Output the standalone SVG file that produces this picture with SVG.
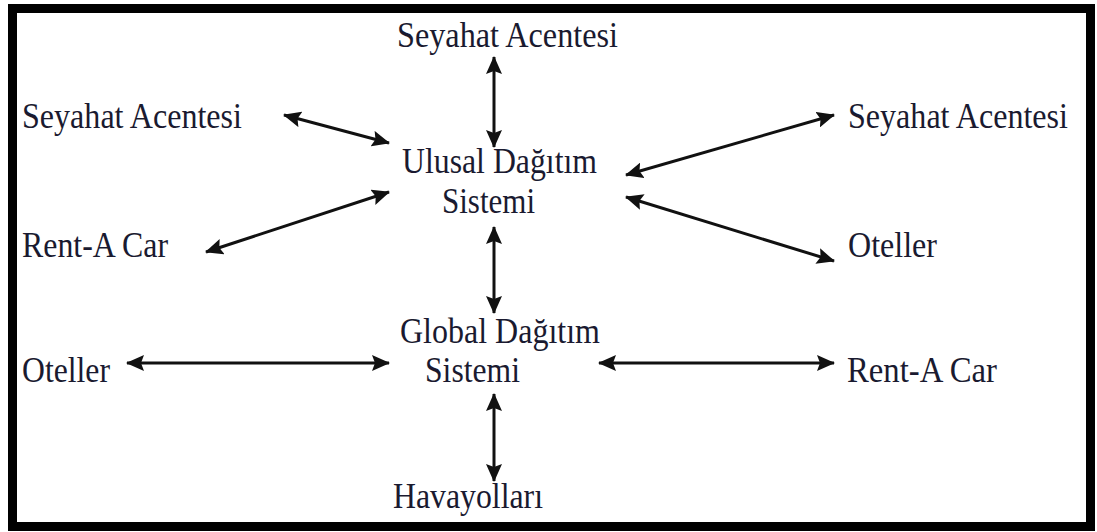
<svg xmlns="http://www.w3.org/2000/svg" width="1097" height="532" viewBox="0 0 1097 532">
  <style>
    .lbl { font-family: "Liberation Serif", "Times New Roman", serif; font-size: 36px; fill: #1a1a30; }
    .conn { stroke: #111; stroke-width: 3; fill: none; marker-start: url(#head); marker-end: url(#head); }
  </style>
  <defs>
    <marker id="head" viewBox="0 0 18 16" refX="17" refY="8" markerWidth="18" markerHeight="16" markerUnits="userSpaceOnUse" orient="auto-start-reverse">
      <path d="M0,0 L18,8 L0,16 L3,8 Z" fill="#111"/>
    </marker>
  </defs>

  <rect x="0" y="0" width="1097" height="532" fill="#fff"/>
  <!-- outer frame -->
  <rect x="12.5" y="8.5" width="1078" height="518" fill="none" stroke="#000" stroke-width="9"/>

  <g id="connectors">
    <line class="conn" x1="494" y1="57" x2="494" y2="147"/>
    <line class="conn" x1="284" y1="115" x2="389" y2="143"/>
    <line class="conn" x1="626" y1="175" x2="834" y2="115"/>
    <line class="conn" x1="626" y1="197" x2="834" y2="261"/>
    <line class="conn" x1="206" y1="252" x2="389" y2="192"/>
    <line class="conn" x1="494" y1="227" x2="494" y2="313"/>
    <line class="conn" x1="127" y1="363" x2="389" y2="363"/>
    <line class="conn" x1="599" y1="363" x2="834" y2="363"/>
    <line class="conn" x1="494" y1="394" x2="494" y2="481"/>
  </g>

  <g id="seyahat-top"><text class="lbl" x="397" y="47" textLength="221" lengthAdjust="spacingAndGlyphs">Seyahat Acentesi</text></g>
  <g id="seyahat-left"><text class="lbl" x="22" y="128" textLength="220" lengthAdjust="spacingAndGlyphs">Seyahat Acentesi</text></g>
  <g id="seyahat-right"><text class="lbl" x="848" y="128" textLength="220" lengthAdjust="spacingAndGlyphs">Seyahat Acentesi</text></g>
  <g id="ulusal">
    <text class="lbl" x="402" y="173" textLength="195" lengthAdjust="spacingAndGlyphs">Ulusal Dağıtım</text>
    <text class="lbl" x="442" y="213" textLength="93" lengthAdjust="spacingAndGlyphs">Sistemi</text>
  </g>
  <g id="rentacar-left"><text class="lbl" x="22" y="257" textLength="146" lengthAdjust="spacingAndGlyphs">Rent-A Car</text></g>
  <g id="oteller-right"><text class="lbl" x="848" y="257" textLength="89" lengthAdjust="spacingAndGlyphs">Oteller</text></g>
  <g id="global">
    <text class="lbl" x="400" y="343" textLength="200" lengthAdjust="spacingAndGlyphs">Global Dağıtım</text>
    <text class="lbl" x="425" y="382" textLength="95" lengthAdjust="spacingAndGlyphs">Sistemi</text>
  </g>
  <g id="oteller-left"><text class="lbl" x="22" y="382" textLength="88" lengthAdjust="spacingAndGlyphs">Oteller</text></g>
  <g id="rentacar-right"><text class="lbl" x="847" y="382" textLength="150" lengthAdjust="spacingAndGlyphs">Rent-A Car</text></g>
  <g id="havayollari"><text class="lbl" x="393" y="508" textLength="150" lengthAdjust="spacingAndGlyphs">Havayolları</text></g>
</svg>
